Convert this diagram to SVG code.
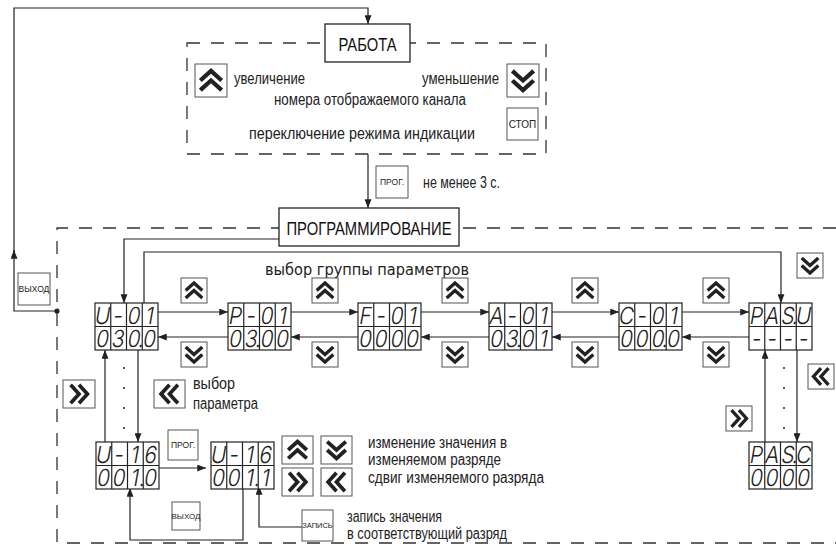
<svg xmlns="http://www.w3.org/2000/svg" xmlns:xlink="http://www.w3.org/1999/xlink" width="836" height="548" viewBox="0 0 836 548">
<style>
.ln{stroke:#222;stroke-width:1.2;fill:none}
.dash{stroke:#333;stroke-width:1.3;fill:none;stroke-dasharray:13 11}
.box{fill:#fff;stroke:#222;stroke-width:1.3}
.key{fill:#fff;stroke:#555;stroke-width:1}
.t{font-family:"Liberation Sans",Arial,sans-serif;font-size:16px;fill:#222}
.bt{font-family:"Liberation Sans",Arial,sans-serif;font-size:19px;fill:#111;text-anchor:middle}
.kt{font-family:"Liberation Sans",Arial,sans-serif;font-size:8.5px;fill:#222;text-anchor:middle}
.g{font-family:"DejaVu Sans",sans-serif;font-size:15px;fill:#222}
.disp{fill:#fff;stroke:#222;stroke-width:1.2}
.seg{font-family:Inter,"Open Sans",Lato,sans-serif;font-weight:300;font-size:21px;fill:#222;text-anchor:middle}
.chev{fill:none;stroke:#222;stroke-width:4}
</style>
<defs>
<marker id="ah" viewBox="0 0 10 8" refX="10" refY="4" markerWidth="10" markerHeight="7" markerUnits="userSpaceOnUse" orient="auto"><path d="M0,0 L10,4 L0,8 z" fill="#222"/></marker>
<symbol id="up" viewBox="0 0 30 30"><path class="chev" d="M5,15 L15,6 L25,15 M5,24 L15,15 L25,24"/></symbol>
<symbol id="dn" viewBox="0 0 30 30"><path class="chev" d="M5,6 L15,15 L25,6 M5,15 L15,24 L25,15"/></symbol>
<symbol id="rt" viewBox="0 0 30 30"><path class="chev" d="M6,5 L15,15 L6,25 M15,5 L24,15 L15,25"/></symbol>
<symbol id="lf" viewBox="0 0 30 30"><path class="chev" d="M15,5 L6,15 L15,25 M24,5 L15,15 L24,25"/></symbol>
<g id="dframe"><rect class="disp" x="0" y="0" width="63" height="47"/><path class="ln" d="M0,23.5 H63 M15.75,0 V47 M31.5,0 V47 M47.25,0 V47"/></g>
</defs>

<g id="connectors">
<path class="dash" d="M187,43 H546 V154 H187 Z"/>
<path class="dash" d="M836,228 H57 V543 H836"/>
<path class="ln" d="M57,311 H14 V250" marker-end="url(#ah)"/>
<path class="ln" d="M14,252 V8 H368 V24" marker-end="url(#ah)"/>
<circle cx="57" cy="311" r="2.6" fill="#222"/>
<path class="ln" d="M368,154 V208" marker-end="url(#ah)"/>
<path class="ln" d="M279,239 H124 V303" marker-end="url(#ah)"/>
<path class="ln" d="M144,303 V252 H781 V303" marker-end="url(#ah)"/>
<path class="ln" d="M158,312 H228" marker-end="url(#ah)"/>
<path class="ln" d="M291,312 H358" marker-end="url(#ah)"/>
<path class="ln" d="M421,312 H489" marker-end="url(#ah)"/>
<path class="ln" d="M552,312 H619" marker-end="url(#ah)"/>
<path class="ln" d="M682,312 H749" marker-end="url(#ah)"/>
<path class="ln" d="M228,337 H158" marker-end="url(#ah)"/>
<path class="ln" d="M358,337 H291" marker-end="url(#ah)"/>
<path class="ln" d="M489,337 H421" marker-end="url(#ah)"/>
<path class="ln" d="M619,337 H552" marker-end="url(#ah)"/>
<path class="ln" d="M749,337 H682" marker-end="url(#ah)"/>
<path class="ln" d="M105,442 V350" marker-end="url(#ah)"/>
<path class="ln" d="M138,350 V442" marker-end="url(#ah)"/>
<path class="ln" d="M765,442 V350" marker-end="url(#ah)"/>
<path class="ln" d="M797,350 V442" marker-end="url(#ah)"/>
<path class="ln" d="M159,468 H206" marker-end="url(#ah)"/>
<path class="ln" d="M243,486 V540 H130 V488" marker-end="url(#ah)"/>
<path class="ln" d="M302,527 H259 V486" marker-end="url(#ah)"/>
<g fill="#222"><circle cx="124" cy="368" r="1"/><circle cx="124" cy="388" r="1"/><circle cx="124" cy="408" r="1"/><circle cx="124" cy="428" r="1"/><circle cx="784" cy="368" r="1"/><circle cx="784" cy="388" r="1"/><circle cx="784" cy="408" r="1"/><circle cx="784" cy="428" r="1"/></g>
</g>

<g id="rabota"><rect class="box" x="325" y="24" width="85" height="38"/><text class="bt" x="367.5" y="51" textLength="58" lengthAdjust="spacingAndGlyphs">РАБОТА</text></g>
<g id="prog-mode"><rect class="box" x="279" y="208" width="180" height="38"/><text class="bt" x="369" y="235" textLength="165" lengthAdjust="spacingAndGlyphs">ПРОГРАММИРОВАНИЕ</text></g>

<g id="work-texts">
<g id="k-w-up"><rect class="key" x="195" y="64" width="32" height="33"/><use xlink:href="#up" href="#up" x="195" y="64" width="32" height="33"/></g>
<text class="t" x="234" y="84" textLength="71" lengthAdjust="spacingAndGlyphs">увеличение</text>
<text class="t" x="422" y="84" textLength="77" lengthAdjust="spacingAndGlyphs">уменьшение</text>
<g id="k-w-dn"><rect class="key" x="507" y="64" width="32" height="33"/><use xlink:href="#dn" href="#dn" x="507" y="64" width="32" height="33"/></g>
<text class="t" x="274" y="105" textLength="192" lengthAdjust="spacingAndGlyphs">номера отображаемого канала</text>
<text class="t" x="249" y="139" textLength="226" lengthAdjust="spacingAndGlyphs">переключение режима индикации</text>
<g id="k-stop"><rect class="key" x="507" y="108" width="31" height="32"/><text class="kt" x="522.5" y="128" style="font-size:10px">СТОП</text></g>
</g>

<g id="k-prog1"><rect class="key" x="376" y="166" width="32" height="32"/><text class="kt" x="392" y="185">ПРОГ.</text></g>
<text class="t" x="423" y="188" textLength="77" lengthAdjust="spacingAndGlyphs">не менее 3 с.</text>
<g id="k-exit1"><rect class="key" x="18" y="273" width="32" height="32"/><text class="kt" x="34" y="292">ВЫХОД</text></g>

<text class="g" x="265" y="275" textLength="204" lengthAdjust="spacingAndGlyphs">выбор группы параметров</text>

<g id="keys-row">
<g><rect class="key" x="181" y="278" width="26" height="25"/><use href="#up" x="181" y="278" width="26" height="25"/></g>
<g><rect class="key" x="312" y="278" width="26" height="25"/><use href="#up" x="312" y="278" width="26" height="25"/></g>
<g><rect class="key" x="442" y="278" width="26" height="25"/><use href="#up" x="442" y="278" width="26" height="25"/></g>
<g><rect class="key" x="572" y="278" width="26" height="25"/><use href="#up" x="572" y="278" width="26" height="25"/></g>
<g><rect class="key" x="703" y="278" width="26" height="25"/><use href="#up" x="703" y="278" width="26" height="25"/></g>
<g><rect class="key" x="181" y="342" width="26" height="25"/><use href="#dn" x="181" y="342" width="26" height="25"/></g>
<g><rect class="key" x="312" y="342" width="26" height="25"/><use href="#dn" x="312" y="342" width="26" height="25"/></g>
<g><rect class="key" x="442" y="342" width="26" height="25"/><use href="#dn" x="442" y="342" width="26" height="25"/></g>
<g><rect class="key" x="572" y="342" width="26" height="25"/><use href="#dn" x="572" y="342" width="26" height="25"/></g>
<g><rect class="key" x="703" y="342" width="26" height="25"/><use href="#dn" x="703" y="342" width="26" height="25"/></g>
<g><rect class="key" x="797" y="253" width="26" height="25"/><use href="#dn" x="797" y="253" width="26" height="25"/></g>
<g><rect class="key" x="808" y="364" width="26" height="25"/><use href="#lf" x="808" y="364" width="26" height="25"/></g>
<g><rect class="key" x="726" y="406" width="26" height="25"/><use href="#rt" x="726" y="406" width="26" height="25"/></g>
<g><rect class="key" x="63" y="380" width="32" height="28"/><use href="#rt" x="63" y="380" width="32" height="28"/></g>
<g><rect class="key" x="154" y="380" width="31" height="28"/><use href="#lf" x="154" y="380" width="31" height="28"/></g>
<g><rect class="key" x="282" y="436" width="31" height="28"/><use href="#up" x="282" y="436" width="31" height="28"/></g>
<g><rect class="key" x="321" y="436" width="31" height="28"/><use href="#dn" x="321" y="436" width="31" height="28"/></g>
<g><rect class="key" x="282" y="468" width="31" height="28"/><use href="#rt" x="282" y="468" width="31" height="28"/></g>
<g><rect class="key" x="321" y="468" width="31" height="28"/><use href="#lf" x="321" y="468" width="31" height="28"/></g>
</g>

<text class="t" x="193" y="389" textLength="42" lengthAdjust="spacingAndGlyphs">выбор</text>
<text class="t" x="193" y="409" textLength="65" lengthAdjust="spacingAndGlyphs">параметра</text>
<g id="k-prog2"><rect class="key" x="168" y="430" width="30" height="30"/><text class="kt" x="183" y="448">ПРОГ.</text></g>
<g id="k-exit2"><rect class="key" x="172" y="502" width="28" height="28"/><text class="kt" x="186" y="519" style="font-size:8px">ВЫХОД</text></g>
<g id="k-zap"><rect class="key" x="302" y="510" width="31" height="31"/><text class="kt" x="317.5" y="528" style="font-size:7.5px">ЗАПИСЬ</text></g>
<text class="t" x="368" y="448" textLength="139" lengthAdjust="spacingAndGlyphs">изменение значения в</text>
<text class="t" x="368" y="465" textLength="133" lengthAdjust="spacingAndGlyphs">изменяемом разряде</text>
<text class="t" x="368" y="483" textLength="176" lengthAdjust="spacingAndGlyphs">сдвиг изменяемого разряда</text>
<text class="t" x="347" y="522" textLength="95" lengthAdjust="spacingAndGlyphs">запись значения</text>
<text class="t" x="347" y="539" textLength="160" lengthAdjust="spacingAndGlyphs">в соответствующий разряд</text>

<g id="d-u01" transform="translate(95,303)"><use href="#dframe"/>
<text class="seg" transform="translate(-1.5,20.5) skewX(-10) scale(1,1.12)" x="7.9 23.6 39.4 55.1" y="0">U-01</text>
<text class="seg" transform="translate(-1.5,44) skewX(-10) scale(1,1.12)" x="7.9 23.6 39.4 47 55.1" y="0">030.0</text></g>
<g id="d-p01" transform="translate(228,303)"><use href="#dframe"/>
<text class="seg" transform="translate(-1.5,20.5) skewX(-10) scale(1,1.12)" x="7.9 23.6 39.4 55.1" y="0">P-01</text>
<text class="seg" transform="translate(-1.5,44) skewX(-10) scale(1,1.12)" x="7.9 23.6 31.3 39.4 55.1" y="0">03.00</text></g>
<g id="d-f01" transform="translate(358,303)"><use href="#dframe"/>
<text class="seg" transform="translate(-1.5,20.5) skewX(-10) scale(1,1.12)" x="7.9 23.6 39.4 55.1" y="0">F-01</text>
<text class="seg" transform="translate(-1.5,44) skewX(-10) scale(1,1.12)" x="7.9 23.6 39.4 55.1" y="0">0000</text></g>
<g id="d-a01" transform="translate(489,303)"><use href="#dframe"/>
<text class="seg" transform="translate(-1.5,20.5) skewX(-10) scale(1,1.12)" x="7.9 23.6 39.4 55.1" y="0">A-01</text>
<text class="seg" transform="translate(-1.5,44) skewX(-10) scale(1,1.12)" x="7.9 23.6 31.3 39.4 55.1" y="0">03.01</text></g>
<g id="d-c01" transform="translate(619,303)"><use href="#dframe"/>
<text class="seg" transform="translate(-1.5,20.5) skewX(-10) scale(1,1.12)" x="7.9 23.6 39.4 55.1" y="0">C-01</text>
<text class="seg" transform="translate(-1.5,44) skewX(-10) scale(1,1.12)" x="7.9 23.6 39.4 47 55.1" y="0">000.0</text></g>
<g id="d-pasu" transform="translate(749,303)"><use href="#dframe"/>
<text class="seg" transform="translate(-1.5,20.5) skewX(-10) scale(1,1.12)" x="7.9 23.6 39.4 47 55.1" y="0">PAS.U</text>
<text class="seg" transform="translate(-1.5,44) skewX(-10) scale(1,1.12)" x="7.9 23.6 39.4 55.1" y="0">----</text></g>
<g id="d-u16a" transform="translate(96,442)"><use href="#dframe"/>
<text class="seg" transform="translate(-1.5,20.5) skewX(-10) scale(1,1.12)" x="7.9 23.6 39.4 55.1" y="0">U-16</text>
<text class="seg" transform="translate(-1.5,44) skewX(-10) scale(1,1.12)" x="7.9 23.6 39.4 47 55.1" y="0">001.0</text></g>
<g id="d-u16b" transform="translate(211,442)"><use href="#dframe"/>
<text class="seg" transform="translate(-1.5,20.5) skewX(-10) scale(1,1.12)" x="7.9 23.6 39.4 55.1" y="0">U-16</text>
<text class="seg" transform="translate(-1.5,44) skewX(-10) scale(1,1.12)" x="7.9 23.6 39.4 47 55.1" y="0">001.1</text></g>
<g id="d-pasc" transform="translate(749,442)"><use href="#dframe"/>
<text class="seg" transform="translate(-1.5,20.5) skewX(-10) scale(1,1.12)" x="7.9 23.6 39.4 47 55.1" y="0">PAS.C</text>
<text class="seg" transform="translate(-1.5,44) skewX(-10) scale(1,1.12)" x="7.9 23.6 39.4 55.1" y="0">0000</text></g>
</svg>
